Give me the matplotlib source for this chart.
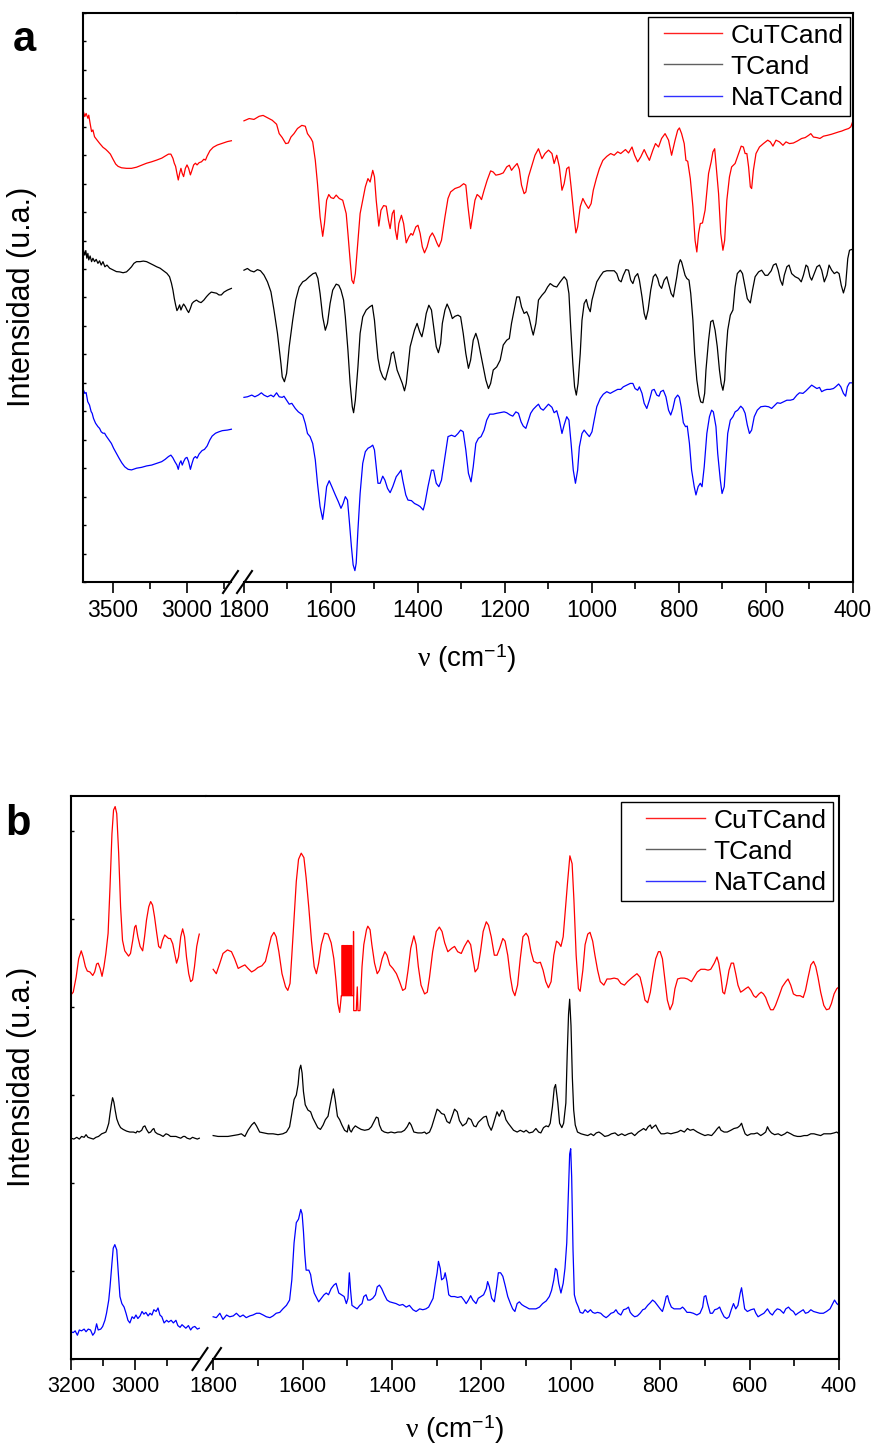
import matplotlib
matplotlib.use("Agg")
import matplotlib.pyplot as plt
import numpy as np
from matplotlib.lines import Line2D
from matplotlib.legend_handler import HandlerLine2D

plt.rcParams["font.family"] = ["Liberation Sans", "DejaVu Sans"]
plt.rcParams["mathtext.fontset"] = "custom"
plt.rcParams["mathtext.rm"] = "Liberation Sans"
plt.rcParams["mathtext.it"] = "Liberation Serif"

LABELS = ["CuTCand", "TCand", "NaTCand"]
COLORS = ["#ff0000", "#000000", "#0000ff"]

# ---- panel a: IR, (wavenumber cm-1, intensity a.u.) ----
IR_CU_HIGH = [(3700, 16.53), (3691, 16.36), (3682, 16.47), (3670, 16.30), (3664, 16.41), (3655, 16.12),
              (3645, 15.83), (3636, 15.89), (3625, 15.65), (3609, 15.54), (3591, 15.42), (3568, 15.28),
              (3550, 15.21), (3534, 15.13), (3518, 15.04), (3500, 14.86), (3482, 14.69), (3466, 14.61),
              (3443, 14.56), (3409, 14.54), (3375, 14.54), (3341, 14.58), (3307, 14.65), (3273, 14.72),
              (3239, 14.77), (3205, 14.83), (3170, 14.90), (3148, 14.97), (3125, 15.04), (3109, 15.04),
              (3095, 14.89), (3086, 14.72), (3077, 14.61), (3068, 14.36), (3059, 14.13), (3050, 14.36),
              (3041, 14.54), (3032, 14.36), (3023, 14.25), (3011, 14.54), (3000, 14.66), (2989, 14.54),
              (2977, 14.31), (2966, 14.48), (2955, 14.66), (2943, 14.72), (2932, 14.66), (2918, 14.74),
              (2902, 14.77), (2886, 14.86), (2875, 14.83), (2864, 14.97), (2845, 15.16), (2823, 15.28),
              (2795, 15.36), (2761, 15.42), (2727, 15.48), (2700, 15.51)]
IR_CU_LOW = [(1800, 16.21), (1788, 16.29), (1777, 16.26), (1765, 16.37), (1756, 16.40), (1746, 16.32),
             (1735, 16.23), (1725, 16.09), (1719, 15.76), (1712, 15.62), (1704, 15.41), (1698, 15.43),
             (1692, 15.64), (1685, 15.76), (1677, 15.94), (1667, 16.05), (1659, 16.02), (1654, 15.76),
             (1646, 15.59), (1642, 15.47), (1636, 14.82), (1631, 14.00), (1625, 12.83), (1619, 12.15),
             (1615, 12.60), (1610, 13.42), (1605, 13.62), (1600, 13.51), (1594, 13.48), (1588, 13.60),
             (1581, 13.48), (1573, 13.42), (1565, 12.95), (1561, 12.25), (1556, 11.31), (1552, 10.61),
             (1548, 10.49), (1544, 10.84), (1538, 12.01), (1533, 12.95), (1527, 13.42), (1521, 13.89),
             (1515, 14.18), (1510, 14.06), (1504, 14.47), (1500, 14.24), (1496, 13.42), (1490, 12.51),
             (1485, 13.07), (1479, 13.23), (1473, 13.21), (1468, 12.72), (1464, 12.42), (1459, 12.95),
             (1455, 13.07), (1452, 12.37), (1448, 12.04), (1444, 12.60), (1438, 12.89), (1433, 12.60),
             (1427, 11.92), (1421, 12.13), (1416, 12.25), (1412, 12.19), (1405, 12.48), (1400, 12.54),
             (1395, 12.25), (1390, 11.78), (1385, 11.57), (1379, 11.78), (1373, 12.13), (1367, 12.27),
             (1362, 12.13), (1356, 11.90), (1352, 11.78), (1346, 12.01), (1338, 12.83), (1331, 13.48),
             (1325, 13.71), (1315, 13.83), (1304, 13.89), (1295, 14.00), (1290, 13.95), (1285, 13.19),
             (1279, 12.42), (1275, 12.83), (1269, 13.42), (1264, 13.62), (1258, 13.54), (1254, 13.44),
             (1248, 13.77), (1241, 14.12), (1233, 14.45), (1227, 14.41), (1221, 14.30), (1212, 14.33),
             (1204, 14.38), (1196, 14.59), (1190, 14.65), (1185, 14.47), (1179, 14.59), (1172, 14.71),
             (1167, 14.50), (1162, 13.95), (1156, 13.65), (1152, 13.71), (1146, 14.24), (1138, 14.65),
             (1131, 15.00), (1123, 15.23), (1115, 14.88), (1108, 15.06), (1100, 15.18), (1092, 15.06),
             (1087, 14.71), (1081, 15.00), (1075, 14.59), (1069, 13.77), (1064, 14.00), (1058, 14.53),
             (1053, 14.59), (1048, 13.89), (1042, 12.95), (1037, 12.27), (1033, 12.48), (1027, 13.19),
             (1021, 13.48), (1015, 13.30), (1008, 13.13), (1002, 13.30), (997, 13.77), (990, 14.18),
             (983, 14.53), (975, 14.82), (966, 14.96), (957, 15.06), (949, 15.00), (941, 15.12),
             (934, 15.06), (923, 15.20), (916, 15.08), (908, 15.29), (902, 15.00), (895, 14.77),
             (888, 14.94), (880, 15.20), (874, 15.00), (868, 14.82), (860, 15.18), (854, 15.41),
             (847, 15.29), (840, 15.59), (832, 15.76), (824, 15.53), (817, 15.00), (809, 15.53),
             (803, 15.88), (799, 15.96), (794, 15.76), (788, 15.41), (784, 14.82), (780, 14.79),
             (774, 14.18), (768, 13.19), (763, 12.01), (759, 11.60), (755, 12.25), (751, 12.60),
             (746, 12.62), (740, 13.07), (732, 14.36), (726, 14.77), (722, 15.12), (718, 15.23),
             (715, 14.71), (709, 13.65), (704, 12.25), (699, 11.66), (695, 12.01), (690, 13.42),
             (684, 14.24), (679, 14.59), (671, 14.71), (663, 15.06), (657, 15.32), (652, 15.29),
             (648, 15.06), (644, 15.06), (640, 14.59), (636, 13.89), (633, 13.83), (629, 14.47),
             (623, 15.06), (615, 15.29), (606, 15.41), (596, 15.53), (590, 15.47), (584, 15.32),
             (577, 15.53), (569, 15.47), (561, 15.35), (554, 15.47), (546, 15.41), (537, 15.43),
             (528, 15.50), (518, 15.59), (510, 15.62), (502, 15.70), (497, 15.76), (491, 15.64),
             (483, 15.62), (476, 15.59), (468, 15.67), (459, 15.70), (449, 15.74), (441, 15.78),
             (433, 15.82), (426, 15.85), (418, 15.90), (410, 15.94), (405, 16.00), (400, 16.21)]

IR_T_HIGH = [(3700, 11.67), (3691, 11.49), (3684, 11.65), (3677, 11.38), (3670, 11.55), (3664, 11.32),
             (3655, 11.46), (3645, 11.26), (3636, 11.38), (3625, 11.26), (3614, 11.34), (3602, 11.20),
             (3591, 11.29), (3580, 11.14), (3568, 11.26), (3555, 11.08), (3541, 11.14), (3523, 11.03),
             (3500, 10.97), (3477, 10.91), (3455, 10.90), (3432, 10.87), (3409, 10.90), (3391, 10.99),
             (3375, 11.08), (3359, 11.20), (3341, 11.26), (3318, 11.26), (3295, 11.28), (3273, 11.26),
             (3250, 11.20), (3227, 11.14), (3205, 11.08), (3182, 11.03), (3159, 10.94), (3136, 10.85),
             (3118, 10.73), (3105, 10.50), (3095, 10.26), (3086, 9.97), (3077, 9.74), (3068, 9.54),
             (3059, 9.62), (3050, 9.74), (3041, 9.56), (3032, 9.68), (3023, 9.77), (3011, 9.68),
             (3000, 9.56), (2989, 9.47), (2977, 9.62), (2966, 9.79), (2955, 9.85), (2936, 9.91),
             (2920, 9.85), (2905, 9.82), (2886, 9.91), (2868, 10.03), (2852, 10.12), (2836, 10.19),
             (2818, 10.17), (2800, 10.15), (2784, 10.09), (2768, 10.09), (2750, 10.19), (2727, 10.26),
             (2700, 10.32)]
IR_T_LOW = [(1800, 10.96), (1792, 11.02), (1785, 10.94), (1777, 10.90), (1769, 10.98), (1762, 10.94),
            (1754, 10.79), (1746, 10.55), (1738, 10.20), (1731, 9.56), (1723, 8.74), (1715, 7.68),
            (1712, 7.21), (1707, 7.04), (1702, 7.33), (1696, 8.27), (1688, 9.20), (1681, 9.91),
            (1673, 10.37), (1665, 10.55), (1658, 10.61), (1650, 10.73), (1641, 10.84), (1635, 10.87),
            (1630, 10.67), (1625, 10.14), (1619, 9.32), (1613, 8.85), (1608, 9.09), (1602, 9.79),
            (1596, 10.26), (1588, 10.47), (1582, 10.43), (1577, 10.26), (1571, 9.91), (1567, 9.32),
            (1561, 8.15), (1556, 6.98), (1551, 6.16), (1548, 5.95), (1544, 6.39), (1538, 7.56),
            (1533, 8.74), (1527, 9.32), (1519, 9.56), (1511, 9.67), (1505, 9.73), (1500, 9.20),
            (1496, 8.50), (1492, 7.86), (1487, 7.45), (1481, 7.21), (1475, 7.10), (1471, 7.33),
            (1465, 7.68), (1461, 8.03), (1456, 8.09), (1451, 7.68), (1448, 7.45), (1442, 7.21),
            (1436, 6.98), (1431, 6.72), (1427, 6.98), (1422, 7.68), (1418, 8.27), (1413, 8.56),
            (1408, 8.85), (1402, 9.09), (1396, 8.79), (1391, 8.62), (1386, 8.97), (1381, 9.44),
            (1375, 9.73), (1369, 9.56), (1364, 8.97), (1358, 8.27), (1353, 8.06), (1348, 8.38),
            (1344, 9.09), (1338, 9.56), (1333, 9.77), (1327, 9.56), (1321, 9.26), (1315, 9.34),
            (1308, 9.38), (1302, 9.32), (1296, 8.74), (1290, 8.03), (1284, 7.51), (1279, 7.80),
            (1273, 8.50), (1267, 8.74), (1262, 8.50), (1256, 8.03), (1250, 7.56), (1244, 7.10),
            (1238, 6.80), (1233, 6.98), (1227, 7.45), (1219, 7.56), (1211, 7.80), (1204, 8.33),
            (1196, 8.50), (1190, 8.56), (1185, 9.09), (1179, 9.56), (1173, 10.02), (1167, 10.02),
            (1162, 9.67), (1156, 9.44), (1150, 9.50), (1145, 9.32), (1138, 8.85), (1135, 8.68),
            (1129, 9.09), (1123, 9.91), (1115, 10.08), (1108, 10.20), (1102, 10.37), (1096, 10.49),
            (1088, 10.40), (1081, 10.37), (1073, 10.55), (1064, 10.73), (1058, 10.61), (1053, 10.14),
            (1049, 8.97), (1044, 7.68), (1040, 6.86), (1036, 6.57), (1032, 6.98), (1027, 8.03),
            (1023, 9.20), (1018, 9.79), (1013, 9.93), (1009, 9.67), (1004, 9.50), (1000, 9.91),
            (994, 10.26), (989, 10.55), (981, 10.75), (974, 10.90), (966, 10.94), (957, 10.94),
            (949, 10.94), (943, 10.84), (938, 10.61), (933, 10.55), (928, 10.78), (922, 10.98),
            (916, 10.96), (911, 10.61), (906, 10.49), (901, 10.73), (895, 10.84), (891, 10.61),
            (885, 10.02), (880, 9.44), (876, 9.23), (871, 9.56), (865, 10.26), (859, 10.73),
            (854, 10.82), (849, 10.67), (845, 10.43), (840, 10.32), (834, 10.61), (828, 10.73),
            (823, 10.43), (818, 10.14), (813, 10.02), (809, 10.37), (805, 10.73), (801, 11.14),
            (797, 11.33), (794, 11.25), (790, 11.02), (786, 10.78), (782, 10.67), (777, 10.61),
            (773, 10.14), (768, 9.20), (764, 8.03), (759, 7.10), (754, 6.57), (750, 6.33),
            (745, 6.30), (741, 6.63), (738, 7.45), (732, 8.50), (727, 9.15), (722, 9.20),
            (717, 8.85), (712, 8.27), (707, 7.45), (703, 6.98), (699, 6.74), (695, 7.10),
            (692, 8.03), (688, 8.85), (682, 9.38), (676, 9.56), (671, 10.37), (666, 10.84),
            (659, 10.96), (654, 10.84), (648, 10.37), (643, 9.96), (636, 9.81), (631, 10.26),
            (625, 10.73), (617, 10.90), (610, 10.96), (602, 10.78), (596, 10.78), (588, 10.94),
            (583, 11.14), (577, 11.19), (572, 10.96), (567, 10.61), (562, 10.43), (558, 10.78),
            (552, 11.08), (547, 11.14), (541, 10.84), (533, 10.73), (525, 10.67), (519, 10.55),
            (514, 10.78), (508, 11.14), (504, 11.08), (499, 10.73), (495, 10.61), (489, 10.84),
            (483, 11.08), (477, 11.14), (472, 10.96), (466, 10.55), (460, 10.78), (455, 11.14),
            (449, 10.96), (443, 10.84), (437, 10.90), (432, 10.84), (427, 10.43), (422, 10.16),
            (417, 10.43), (412, 11.37), (408, 11.66), (403, 11.69), (400, 11.66)]

IR_NA_HIGH = [(3700, 6.75), (3691, 6.63), (3682, 6.66), (3671, 6.34), (3659, 6.22), (3648, 5.99),
              (3641, 5.93), (3632, 5.75), (3618, 5.58), (3602, 5.46), (3591, 5.40), (3580, 5.28),
              (3568, 5.23), (3557, 5.23), (3546, 5.13), (3527, 4.99), (3511, 4.87), (3496, 4.70),
              (3477, 4.52), (3459, 4.35), (3441, 4.19), (3421, 4.05), (3398, 3.96), (3375, 3.94),
              (3341, 4.00), (3307, 4.03), (3273, 4.08), (3239, 4.11), (3205, 4.17), (3171, 4.23),
              (3148, 4.31), (3125, 4.41), (3109, 4.46), (3096, 4.37), (3082, 4.23), (3068, 4.11),
              (3059, 3.96), (3050, 4.17), (3041, 4.26), (3032, 4.11), (3023, 4.23), (3011, 4.35),
              (3000, 4.38), (2989, 4.23), (2977, 3.96), (2966, 4.17), (2955, 4.35), (2943, 4.41),
              (2932, 4.35), (2918, 4.50), (2898, 4.62), (2882, 4.66), (2864, 4.78), (2846, 4.99),
              (2830, 5.13), (2807, 5.23), (2784, 5.28), (2761, 5.32), (2727, 5.34), (2700, 5.37)]
IR_NA_LOW = [(1800, 6.49), (1792, 6.51), (1782, 6.57), (1775, 6.51), (1767, 6.57), (1760, 6.65),
             (1754, 6.57), (1746, 6.51), (1738, 6.57), (1732, 6.51), (1725, 6.65), (1719, 6.51),
             (1712, 6.49), (1708, 6.53), (1702, 6.39), (1696, 6.25), (1690, 6.28), (1682, 6.10),
             (1675, 5.98), (1665, 5.87), (1659, 5.57), (1654, 5.22), (1648, 5.11), (1642, 4.87),
             (1636, 4.29), (1631, 3.47), (1625, 2.65), (1619, 2.20), (1615, 2.65), (1610, 3.35),
             (1604, 3.56), (1598, 3.35), (1590, 3.06), (1583, 2.82), (1577, 2.59), (1572, 2.76),
             (1567, 3.00), (1562, 2.88), (1558, 2.18), (1553, 1.24), (1549, 0.60), (1545, 0.40),
             (1542, 0.66), (1538, 1.83), (1533, 3.11), (1527, 4.17), (1521, 4.58), (1515, 4.70),
             (1509, 4.75), (1504, 4.81), (1500, 4.64), (1496, 4.05), (1492, 3.47), (1487, 3.47),
             (1481, 3.72), (1476, 3.58), (1470, 3.29), (1464, 3.14), (1458, 3.35), (1450, 3.70),
             (1444, 3.82), (1439, 3.93), (1435, 3.58), (1428, 3.06), (1423, 2.88), (1415, 2.86),
             (1408, 2.76), (1400, 2.70), (1395, 2.65), (1388, 2.53), (1384, 2.76), (1377, 3.35),
             (1369, 3.93), (1364, 3.93), (1358, 3.47), (1352, 3.35), (1346, 3.58), (1338, 4.40),
             (1331, 5.11), (1323, 5.16), (1315, 5.11), (1308, 5.22), (1302, 5.34), (1296, 5.28),
             (1290, 4.64), (1284, 3.82), (1278, 3.52), (1273, 4.05), (1267, 4.87), (1261, 5.05),
             (1255, 5.11), (1248, 5.34), (1242, 5.69), (1235, 5.90), (1227, 5.90), (1219, 5.93),
             (1212, 5.95), (1202, 5.98), (1196, 5.95), (1188, 5.87), (1182, 5.83), (1175, 5.98),
             (1169, 5.93), (1163, 5.63), (1158, 5.48), (1152, 5.40), (1146, 5.69), (1141, 5.93),
             (1135, 6.07), (1128, 6.18), (1123, 6.25), (1118, 6.10), (1112, 6.04), (1105, 6.16),
             (1100, 6.25), (1092, 6.14), (1087, 5.95), (1081, 6.02), (1075, 5.69), (1069, 5.22),
             (1064, 5.52), (1058, 5.81), (1053, 5.69), (1048, 4.87), (1043, 3.93), (1038, 3.47),
             (1033, 3.93), (1029, 4.75), (1023, 5.22), (1018, 5.34), (1012, 5.22), (1006, 5.11),
             (1000, 5.28), (995, 5.69), (989, 6.16), (981, 6.45), (974, 6.60), (966, 6.69),
             (958, 6.63), (951, 6.69), (941, 6.77), (934, 6.77), (928, 6.86), (920, 6.92),
             (912, 6.98), (906, 6.98), (901, 6.80), (895, 6.74), (891, 6.86), (885, 6.63),
             (880, 6.28), (874, 6.10), (868, 6.39), (862, 6.74), (857, 6.77), (851, 6.57),
             (846, 6.53), (842, 6.69), (836, 6.74), (830, 6.51), (824, 6.04), (819, 5.87),
             (814, 6.10), (809, 6.45), (803, 6.57), (799, 6.49), (795, 6.16), (790, 5.60),
             (785, 5.46), (781, 5.48), (776, 4.87), (771, 3.93), (765, 3.35), (761, 3.06),
             (756, 3.35), (751, 3.47), (747, 3.35), (742, 4.05), (736, 5.22), (730, 5.81),
             (725, 6.04), (721, 5.98), (715, 5.46), (711, 4.52), (705, 3.58), (701, 3.11),
             (696, 3.35), (692, 4.29), (688, 5.22), (682, 5.69), (676, 5.81), (671, 5.98),
             (665, 6.04), (658, 6.18), (653, 6.10), (648, 5.93), (643, 5.52), (638, 5.22),
             (633, 5.34), (627, 5.81), (620, 6.04), (612, 6.16), (602, 6.18), (594, 6.16),
             (587, 6.10), (579, 6.22), (574, 6.30), (567, 6.28), (560, 6.33), (552, 6.39),
             (544, 6.39), (537, 6.42), (529, 6.57), (523, 6.65), (515, 6.63), (508, 6.72),
             (500, 6.84), (495, 6.92), (489, 6.86), (483, 6.80), (477, 6.84), (472, 6.69),
             (466, 6.74), (460, 6.77), (453, 6.77), (445, 6.80), (440, 6.86), (433, 6.96),
             (428, 6.86), (422, 6.63), (417, 6.53), (413, 6.86), (408, 7.00), (400, 7.00)]

# ---- panel b: Raman ----
RA_CU_HIGH = [(3200, 4.14), (3193, 4.17), (3184, 4.34), (3176, 4.55), (3168, 4.64), (3162, 4.57),
              (3155, 4.46), (3149, 4.41), (3141, 4.40), (3132, 4.36), (3126, 4.40), (3120, 4.49),
              (3115, 4.50), (3109, 4.44), (3103, 4.35), (3097, 4.46), (3091, 4.61), (3084, 4.84),
              (3078, 5.37), (3072, 5.97), (3067, 6.24), (3062, 6.28), (3057, 6.20), (3051, 5.75),
              (3045, 5.14), (3039, 4.76), (3032, 4.64), (3026, 4.61), (3020, 4.58), (3014, 4.61),
              (3007, 4.76), (3001, 4.91), (2997, 4.93), (2991, 4.80), (2984, 4.69), (2976, 4.64),
              (2970, 4.80), (2964, 4.99), (2957, 5.14), (2951, 5.20), (2945, 5.16), (2939, 5.03),
              (2932, 4.84), (2926, 4.69), (2920, 4.67), (2914, 4.76), (2907, 4.82), (2901, 4.80),
              (2895, 4.78), (2889, 4.78), (2882, 4.72), (2876, 4.61), (2870, 4.50), (2864, 4.57),
              (2857, 4.80), (2851, 4.89), (2845, 4.80), (2839, 4.57), (2832, 4.38), (2826, 4.29),
              (2820, 4.31), (2814, 4.46), (2807, 4.69), (2801, 4.80), (2799, 4.83)]
RA_CU_LOW = [(1800, 4.43), (1793, 4.38), (1785, 4.50), (1778, 4.61), (1768, 4.65), (1759, 4.63),
             (1752, 4.55), (1744, 4.44), (1737, 4.46), (1729, 4.48), (1722, 4.44), (1714, 4.40),
             (1707, 4.42), (1700, 4.45), (1691, 4.47), (1683, 4.52), (1676, 4.67), (1670, 4.80),
             (1664, 4.85), (1659, 4.80), (1653, 4.63), (1646, 4.38), (1638, 4.23), (1633, 4.19),
             (1628, 4.27), (1624, 4.59), (1619, 5.01), (1614, 5.43), (1609, 5.68), (1603, 5.75),
             (1597, 5.70), (1592, 5.47), (1586, 5.13), (1580, 4.75), (1574, 4.46), (1569, 4.38),
             (1564, 4.50), (1558, 4.71), (1551, 4.84), (1543, 4.83), (1536, 4.73), (1530, 4.55),
             (1525, 4.29), (1521, 4.04), (1517, 3.94), (1513.3, 4.13),
             (1512, 4.13), (1512, 4.70), (1510.5, 4.70), (1510.5, 4.13), (1509, 4.13), (1509, 4.70),
             (1507.5, 4.70), (1507.5, 4.13), (1506, 4.13), (1506, 4.70), (1504.5, 4.70), (1504.5, 4.13),
             (1503, 4.13), (1503, 4.70), (1501.5, 4.70), (1501.5, 4.13), (1500, 4.13), (1500, 4.70),
             (1498.5, 4.70), (1498.5, 4.13), (1497, 4.13), (1497, 4.70), (1495.5, 4.70), (1495.5, 4.13),
             (1494, 4.13), (1494, 4.70), (1492.5, 4.70), (1492.5, 4.13), (1491, 4.13), (1491, 4.70),
             (1489.5, 4.70), (1489.5, 4.13), (1486, 4.13), (1486, 4.86), (1485.6, 3.96),
             (1483.5, 3.96), (1479.8, 3.96), (1477.6, 4.23), (1476.1, 3.96), (1471.6, 3.96),
             (1467, 4.46), (1463, 4.71), (1457, 4.88), (1454, 4.92), (1449, 4.88), (1445, 4.71),
             (1439, 4.50), (1433, 4.38), (1428, 4.42), (1422, 4.55), (1416, 4.63), (1411, 4.59),
             (1405, 4.48), (1398, 4.44), (1390, 4.38), (1383, 4.29), (1376, 4.19), (1370, 4.21),
             (1364, 4.42), (1358, 4.67), (1351, 4.81), (1346, 4.71), (1341, 4.46), (1335, 4.25),
             (1327, 4.15), (1321, 4.17), (1316, 4.34), (1309, 4.63), (1301, 4.86), (1294, 4.91),
             (1288, 4.86), (1282, 4.73), (1275, 4.63), (1266, 4.67), (1260, 4.69), (1253, 4.63),
             (1245, 4.61), (1238, 4.69), (1230, 4.76), (1224, 4.71), (1219, 4.55), (1214, 4.40),
             (1208, 4.44), (1202, 4.63), (1196, 4.86), (1189, 4.97), (1184, 4.93), (1178, 4.80),
             (1171, 4.59), (1165, 4.59), (1159, 4.67), (1152, 4.78), (1147, 4.75), (1141, 4.59),
             (1135, 4.34), (1130, 4.19), (1125, 4.13), (1119, 4.25), (1113, 4.55), (1107, 4.80),
             (1100, 4.84), (1095, 4.80), (1089, 4.63), (1083, 4.52), (1075, 4.50), (1068, 4.51),
             (1062, 4.42), (1056, 4.29), (1050, 4.22), (1044, 4.29), (1038, 4.59), (1032, 4.75),
             (1027, 4.73), (1022, 4.69), (1017, 4.80), (1013, 5.05), (1007, 5.43), (1002, 5.72),
             (997, 5.63), (993, 5.22), (988, 4.59), (983, 4.21), (979, 4.18), (973, 4.42),
             (968, 4.71), (962, 4.83), (957, 4.85), (951, 4.75), (946, 4.59), (940, 4.42),
             (934, 4.29), (926, 4.25), (919, 4.32), (912, 4.32), (903, 4.33), (895, 4.32),
             (888, 4.27), (880, 4.25), (873, 4.29), (862, 4.34), (852, 4.38), (845, 4.34),
             (839, 4.21), (834, 4.08), (828, 4.05), (822, 4.17), (816, 4.38), (810, 4.55),
             (804, 4.63), (800, 4.63), (795, 4.55), (790, 4.34), (784, 4.08), (778, 3.97),
             (772, 4.04), (767, 4.21), (761, 4.32), (754, 4.33), (746, 4.33), (739, 4.32),
             (730, 4.29), (724, 4.34), (717, 4.40), (709, 4.43), (700, 4.43), (693, 4.42),
             (687, 4.43), (679, 4.50), (673, 4.57), (669, 4.50), (664, 4.34), (660, 4.17),
             (656, 4.15), (651, 4.27), (646, 4.42), (641, 4.50), (636, 4.50), (631, 4.38),
             (626, 4.25), (620, 4.17), (614, 4.19), (609, 4.21), (603, 4.23), (597, 4.19),
             (591, 4.13), (586, 4.11), (579, 4.15), (574, 4.17), (569, 4.15), (564, 4.11),
             (559, 4.04), (553, 3.97), (547, 3.97), (542, 4.02), (534, 4.13), (527, 4.23),
             (519, 4.29), (514, 4.32), (508, 4.25), (502, 4.15), (495, 4.13), (487, 4.13),
             (480, 4.11), (475, 4.19), (469, 4.34), (463, 4.48), (457, 4.52), (452, 4.46),
             (447, 4.34), (441, 4.17), (434, 4.02), (428, 3.97), (422, 3.98), (417, 4.04),
             (411, 4.15), (405, 4.21), (400, 4.23)]

RA_T_HIGH = [(3200, 2.51), (3191, 2.50), (3182, 2.52), (3174, 2.50), (3167, 2.53), (3159, 2.52),
             (3153, 2.55), (3147, 2.52), (3139, 2.51), (3130, 2.50), (3122, 2.52), (3114, 2.53),
             (3104, 2.56), (3097, 2.57), (3091, 2.58), (3087, 2.62), (3082, 2.68), (3078, 2.79),
             (3074, 2.89), (3070, 2.97), (3066, 2.92), (3062, 2.83), (3057, 2.73), (3051, 2.67),
             (3045, 2.63), (3037, 2.61), (3026, 2.59), (3016, 2.58), (3005, 2.58), (2997, 2.57),
             (2993, 2.59), (2987, 2.58), (2979, 2.60), (2974, 2.64), (2969, 2.65), (2964, 2.61),
             (2957, 2.57), (2951, 2.58), (2945, 2.61), (2941, 2.62), (2937, 2.58), (2930, 2.56),
             (2922, 2.55), (2912, 2.53), (2903, 2.56), (2896, 2.55), (2889, 2.53), (2880, 2.53),
             (2872, 2.53), (2865, 2.52), (2857, 2.51), (2849, 2.53), (2844, 2.53), (2837, 2.51),
             (2828, 2.50), (2820, 2.52), (2813, 2.51), (2805, 2.50), (2799, 2.51)]
RA_T_LOW = [(1800, 2.54), (1789, 2.53), (1778, 2.53), (1767, 2.53), (1755, 2.54), (1744, 2.55),
            (1737, 2.56), (1729, 2.53), (1722, 2.60), (1714, 2.66), (1708, 2.69), (1703, 2.65),
            (1696, 2.58), (1686, 2.57), (1677, 2.56), (1666, 2.56), (1655, 2.55), (1644, 2.56),
            (1636, 2.58), (1629, 2.64), (1624, 2.79), (1619, 2.95), (1614, 3.00), (1610, 3.12),
            (1607, 3.29), (1604, 3.34), (1601, 3.25), (1598, 3.04), (1594, 2.89), (1588, 2.83),
            (1582, 2.81), (1577, 2.74), (1571, 2.68), (1566, 2.63), (1560, 2.61), (1554, 2.66),
            (1549, 2.72), (1543, 2.76), (1539, 2.87), (1534, 3.00), (1531, 3.07), (1527, 2.95),
            (1522, 2.76), (1517, 2.72), (1512, 2.66), (1506, 2.60), (1500, 2.58), (1497, 2.66),
            (1494, 2.60), (1491, 2.58), (1487, 2.62), (1482, 2.65), (1476, 2.63), (1469, 2.61),
            (1461, 2.60), (1452, 2.61), (1446, 2.64), (1440, 2.70), (1435, 2.75), (1431, 2.74),
            (1428, 2.66), (1423, 2.60), (1417, 2.58), (1409, 2.57), (1402, 2.58), (1394, 2.57),
            (1387, 2.58), (1379, 2.58), (1372, 2.60), (1366, 2.64), (1361, 2.69), (1357, 2.66),
            (1351, 2.58), (1342, 2.57), (1333, 2.57), (1327, 2.58), (1323, 2.56), (1316, 2.58),
            (1311, 2.64), (1305, 2.74), (1299, 2.84), (1294, 2.82), (1289, 2.79), (1283, 2.78),
            (1277, 2.70), (1271, 2.68), (1266, 2.75), (1260, 2.84), (1254, 2.81), (1249, 2.71),
            (1242, 2.65), (1234, 2.68), (1229, 2.74), (1223, 2.72), (1217, 2.65), (1212, 2.64),
            (1207, 2.69), (1201, 2.72), (1195, 2.75), (1189, 2.76), (1184, 2.66), (1178, 2.60),
            (1175, 2.64), (1169, 2.74), (1165, 2.81), (1160, 2.76), (1154, 2.83), (1150, 2.81),
            (1145, 2.72), (1140, 2.68), (1134, 2.64), (1128, 2.60), (1120, 2.58), (1113, 2.60),
            (1105, 2.58), (1100, 2.60), (1093, 2.57), (1085, 2.58), (1078, 2.62), (1072, 2.58),
            (1067, 2.57), (1061, 2.63), (1055, 2.65), (1050, 2.64), (1046, 2.68), (1041, 2.87),
            (1037, 3.08), (1034, 3.12), (1029, 2.91), (1025, 2.68), (1020, 2.63), (1016, 2.68),
            (1011, 2.91), (1008, 3.46), (1005, 3.92), (1002.5, 4.09), (999.5, 3.79), (996.5, 3.20),
            (993.5, 2.83), (990, 2.66), (985, 2.58), (977, 2.56), (970, 2.55), (962, 2.54),
            (955, 2.56), (949, 2.54), (943, 2.57), (937, 2.58), (931, 2.56), (924, 2.53),
            (916, 2.54), (909, 2.56), (901, 2.57), (894, 2.54), (886, 2.56), (879, 2.54),
            (871, 2.56), (864, 2.57), (857, 2.54), (849, 2.58), (843, 2.60), (837, 2.62),
            (832, 2.60), (827, 2.64), (822, 2.66), (819, 2.62), (815, 2.64), (810, 2.66),
            (804, 2.60), (798, 2.56), (791, 2.56), (784, 2.57), (776, 2.56), (769, 2.57),
            (761, 2.58), (754, 2.60), (746, 2.58), (739, 2.62), (733, 2.60), (726, 2.61),
            (717, 2.58), (709, 2.56), (700, 2.54), (693, 2.55), (685, 2.54), (678, 2.58),
            (672, 2.62), (668, 2.64), (664, 2.60), (657, 2.58), (650, 2.58), (642, 2.60),
            (635, 2.62), (627, 2.63), (622, 2.65), (618, 2.68), (615, 2.63), (610, 2.56),
            (605, 2.54), (597, 2.56), (590, 2.56), (583, 2.57), (575, 2.54), (569, 2.56),
            (564, 2.58), (560, 2.64), (556, 2.60), (551, 2.57), (544, 2.55), (536, 2.56),
            (529, 2.54), (521, 2.56), (516, 2.58), (508, 2.56), (501, 2.54), (493, 2.53),
            (486, 2.53), (478, 2.54), (471, 2.54), (463, 2.56), (456, 2.56), (449, 2.55),
            (441, 2.54), (434, 2.56), (426, 2.56), (419, 2.56), (411, 2.57), (405, 2.58),
            (400, 2.56)]

RA_NA_HIGH = [(3200, 0.31), (3193, 0.30), (3187, 0.32), (3180, 0.27), (3174, 0.33), (3167, 0.32),
              (3159, 0.34), (3153, 0.31), (3146, 0.34), (3139, 0.33), (3132, 0.27), (3126, 0.30),
              (3120, 0.40), (3115, 0.33), (3107, 0.34), (3101, 0.37), (3094, 0.44), (3089, 0.52),
              (3082, 0.67), (3078, 0.82), (3072, 1.09), (3068, 1.26), (3063, 1.30), (3057, 1.24),
              (3052, 0.97), (3047, 0.71), (3041, 0.63), (3034, 0.59), (3028, 0.52), (3022, 0.44),
              (3016, 0.41), (3009, 0.48), (3003, 0.46), (2997, 0.50), (2991, 0.46), (2984, 0.49),
              (2978, 0.54), (2972, 0.51), (2966, 0.53), (2959, 0.49), (2953, 0.52), (2947, 0.50),
              (2941, 0.56), (2934, 0.54), (2928, 0.58), (2922, 0.50), (2916, 0.48), (2909, 0.41),
              (2901, 0.44), (2895, 0.42), (2887, 0.44), (2880, 0.41), (2872, 0.44), (2866, 0.38),
              (2859, 0.36), (2853, 0.39), (2847, 0.37), (2841, 0.35), (2833, 0.38), (2826, 0.33),
              (2820, 0.36), (2813, 0.37), (2805, 0.34), (2799, 0.35)]
RA_NA_LOW = [(1800, 0.48), (1793, 0.47), (1785, 0.52), (1778, 0.45), (1770, 0.50), (1763, 0.48),
             (1755, 0.49), (1748, 0.52), (1740, 0.48), (1733, 0.50), (1726, 0.47), (1718, 0.49),
             (1711, 0.50), (1703, 0.52), (1696, 0.52), (1688, 0.50), (1681, 0.48), (1673, 0.47),
             (1666, 0.49), (1659, 0.52), (1651, 0.53), (1644, 0.57), (1636, 0.61), (1629, 0.67),
             (1624, 0.90), (1619, 1.32), (1614, 1.55), (1609, 1.59), (1604, 1.70), (1601, 1.65),
             (1598, 1.45), (1595, 1.19), (1592, 1.01), (1586, 1.01), (1582, 0.96), (1579, 0.86),
             (1574, 0.75), (1569, 0.70), (1564, 0.65), (1558, 0.69), (1552, 0.73), (1547, 0.75),
             (1542, 0.73), (1536, 0.80), (1530, 0.84), (1525, 0.86), (1519, 0.75), (1513, 0.73),
             (1507, 0.71), (1502, 0.63), (1498.4, 0.69), (1495.4, 0.98), (1492.6, 0.78), (1489.5, 0.61),
             (1484, 0.59), (1478, 0.57), (1472, 0.61), (1467, 0.63), (1463, 0.71), (1458, 0.73),
             (1454, 0.67), (1449, 0.67), (1443, 0.69), (1437, 0.73), (1433, 0.82), (1428, 0.84),
             (1423, 0.80), (1417, 0.73), (1411, 0.67), (1405, 0.65), (1398, 0.64), (1391, 0.63),
             (1383, 0.61), (1376, 0.62), (1368, 0.59), (1361, 0.61), (1353, 0.56), (1346, 0.54),
             (1338, 0.57), (1331, 0.56), (1324, 0.57), (1318, 0.59), (1312, 0.65), (1308, 0.69),
             (1303, 0.86), (1299, 0.98), (1296, 1.11), (1292, 1.03), (1289, 0.90), (1284, 0.92),
             (1281, 0.98), (1277, 0.88), (1273, 0.73), (1268, 0.71), (1260, 0.71), (1253, 0.70),
             (1245, 0.71), (1239, 0.67), (1234, 0.63), (1229, 0.67), (1224, 0.72), (1219, 0.67),
             (1212, 0.63), (1207, 0.69), (1201, 0.71), (1195, 0.73), (1189, 0.80), (1186, 0.88),
             (1182, 0.82), (1177, 0.69), (1171, 0.65), (1166, 0.82), (1162, 0.98), (1157, 0.98),
             (1152, 0.94), (1147, 0.84), (1141, 0.71), (1135, 0.63), (1130, 0.57), (1125, 0.54),
             (1120, 0.63), (1115, 0.65), (1110, 0.62), (1104, 0.60), (1100, 0.59), (1093, 0.57),
             (1085, 0.57), (1078, 0.57), (1070, 0.59), (1063, 0.63), (1055, 0.66), (1048, 0.71),
             (1043, 0.78), (1038, 0.90), (1034.5, 1.03), (1031, 1.01), (1027, 0.86), (1022, 0.75),
             (1017, 0.86), (1013, 1.03), (1009, 1.32), (1005.4, 1.86), (1002.5, 2.33), (1000.2, 2.39),
             (998, 2.07), (995, 1.24), (992, 0.73), (988, 0.65), (983, 0.59), (979, 0.53),
             (973, 0.52), (968, 0.56), (962, 0.53), (956, 0.56), (951, 0.53), (946, 0.52),
             (940, 0.53), (933, 0.52), (927, 0.49), (921, 0.47), (916, 0.49), (910, 0.52),
             (904, 0.53), (899, 0.56), (894, 0.52), (888, 0.50), (882, 0.56), (876, 0.57),
             (871, 0.59), (867, 0.53), (862, 0.50), (857, 0.48), (851, 0.49), (845, 0.52),
             (839, 0.56), (834, 0.57), (828, 0.61), (822, 0.64), (817, 0.67), (812, 0.65),
             (806, 0.61), (800, 0.57), (795, 0.54), (791, 0.61), (786.5, 0.71), (783.5, 0.72),
             (780, 0.65), (775, 0.59), (769, 0.57), (761, 0.57), (755, 0.57), (750, 0.59),
             (746, 0.57), (740, 0.53), (733, 0.53), (726, 0.52), (718, 0.50), (711, 0.52),
             (705, 0.59), (701.6, 0.71), (697.9, 0.72), (694, 0.63), (688, 0.52), (683, 0.52),
             (678, 0.56), (672, 0.57), (667, 0.59), (663, 0.54), (657, 0.48), (651, 0.46),
             (646, 0.48), (641, 0.56), (636, 0.63), (631, 0.57), (626, 0.61), (621, 0.75),
             (618, 0.81), (615, 0.71), (611, 0.57), (605, 0.54), (597, 0.56), (590, 0.57),
             (586, 0.52), (581, 0.48), (575, 0.50), (568, 0.52), (560, 0.57), (554, 0.52),
             (549, 0.50), (544, 0.54), (538, 0.57), (532, 0.56), (524, 0.52), (519, 0.57),
             (513, 0.59), (508, 0.56), (502, 0.54), (497, 0.50), (492, 0.52), (486, 0.54),
             (480, 0.56), (475, 0.52), (469, 0.53), (463, 0.56), (457, 0.54), (450, 0.53),
             (443, 0.52), (435, 0.52), (428, 0.54), (420, 0.57), (415, 0.62), (410, 0.67),
             (405, 0.63), (400, 0.61)]

IR_SERIES = [(IR_CU_HIGH, IR_CU_LOW), (IR_T_HIGH, IR_T_LOW), (IR_NA_HIGH, IR_NA_LOW)]
RA_SERIES = [(RA_CU_HIGH, RA_CU_LOW), (RA_T_HIGH, RA_T_LOW), (RA_NA_HIGH, RA_NA_LOW)]

W, H = 873, 1445
LINE_W = 0.9


def px_axes(fig, left, right, top, bottom):
    return fig.add_axes([left / W, 1 - bottom / H, (right - left) / W, (bottom - top) / H])


def slash(fig, cx, cy, dx=7.5, dy=11):
    fig.add_artist(Line2D([(cx - dx) / W, (cx + dx) / W], [1 - (cy + dy) / H, 1 - (cy - dy) / H],
                          transform=fig.transFigure, color="black", lw=1.5))


def draw_panel(fig, box, split, hi_lim, hi_end, hi_major, hi_minor, ymax, series, slashes,
               tick_fs, legend_anchor, leg_xpad, leg_hlen):
    left, right, top, bottom = box
    ax_hi = px_axes(fig, left, split, top, bottom)
    ax_lo = px_axes(fig, split, right, top, bottom)

    for (hi, lo), color in zip(series, COLORS):
        hx, hy = np.array(hi).T
        lx, ly = np.array(lo).T
        ax_hi.plot(hx, hy, color=color, lw=LINE_W)
        ax_lo.plot(lx, ly, color=color, lw=LINE_W)

    ax_hi.set_xlim(*hi_lim)
    ax_lo.set_xlim(1816, 400)
    for ax in (ax_hi, ax_lo):
        ax.set_ylim(0, ymax)
        for s in ax.spines.values():
            s.set_linewidth(1.5)
        ax.tick_params(axis="x", which="major", direction="out", length=8, width=1.2,
                       labelsize=tick_fs, pad=4)
        ax.tick_params(axis="x", which="minor", direction="out", length=5, width=1.2)
    ax_hi.spines["right"].set_visible(False)
    ax_lo.spines["left"].set_visible(False)
    ax_hi.spines["bottom"].set_bounds(hi_end, hi_lim[0])
    ax_lo.spines["bottom"].set_bounds(400, 1800)

    ax_hi.set_xticks(hi_major)
    ax_hi.set_xticks(hi_minor, minor=True)
    ax_lo.set_xticks(list(range(1800, 399, -200)))
    ax_lo.set_xticks(list(range(1700, 499, -200)), minor=True)

    ax_hi.set_yticks(np.arange(0, ymax + 1e-6, 1))
    ax_hi.tick_params(axis="y", direction="in", length=2.5, width=1, labelleft=False)
    ax_lo.tick_params(axis="y", left=False, labelleft=False)

    for cx in slashes:
        slash(fig, cx, bottom)

    handles = [Line2D([], [], color=c, lw=1.0) for c in ["#ff2020", "#606060", "#3030ff"]]
    leg = ax_lo.legend(handles, LABELS, loc="upper right",
                       bbox_to_anchor=(legend_anchor[0] / W, 1 - legend_anchor[1] / H),
                       bbox_transform=fig.transFigure, borderaxespad=0, fontsize=19,
                       frameon=True, fancybox=False, framealpha=1, edgecolor="black",
                       borderpad=0.25, labelspacing=0.27, handlelength=leg_hlen,
                       handletextpad=0.3,
                       handler_map={Line2D: HandlerLine2D(xpad=leg_xpad)})
    leg.get_frame().set_linewidth(1.0)
    return ax_hi, ax_lo


fig = plt.figure(figsize=(W / 100, H / 100), dpi=100)

draw_panel(fig, (83, 853, 13, 582), 237, (3703, 2662), 2700, [3500, 3000], [3250, 2750], 20,
           IR_SERIES, [230.5, 244.5], 16.5, (850, 17), 0.36, 2.59)
draw_panel(fig, (71, 839, 796, 1359), 206, (3200, 2778), 2800, [3200, 3000], [3100, 2900], 6.4,
           RA_SERIES, [200, 213.5], 15.5, (833, 802), 0.70, 2.97)

for yc in (297, 1077):
    fig.text(22 / W, 1 - yc / H, "Intensidad (u.a.)", rotation=90, ha="center", va="center",
             fontsize=22)
for xc, yc in ((467, 659), (455, 1430)):
    fig.text(xc / W, 1 - yc / H, r"$\nu$ (cm$^{\mathrm{-1}}$)", ha="center", va="center",
             fontsize=20)

fig.text(13 / W, 1 - 51 / H, "a", fontsize=30, fontweight="bold", ha="left", va="baseline")
fig.text(5 / W, 1 - 835 / H, "b", fontsize=30, fontweight="bold", ha="left", va="baseline")

fig.savefig("out.png", dpi=100)
